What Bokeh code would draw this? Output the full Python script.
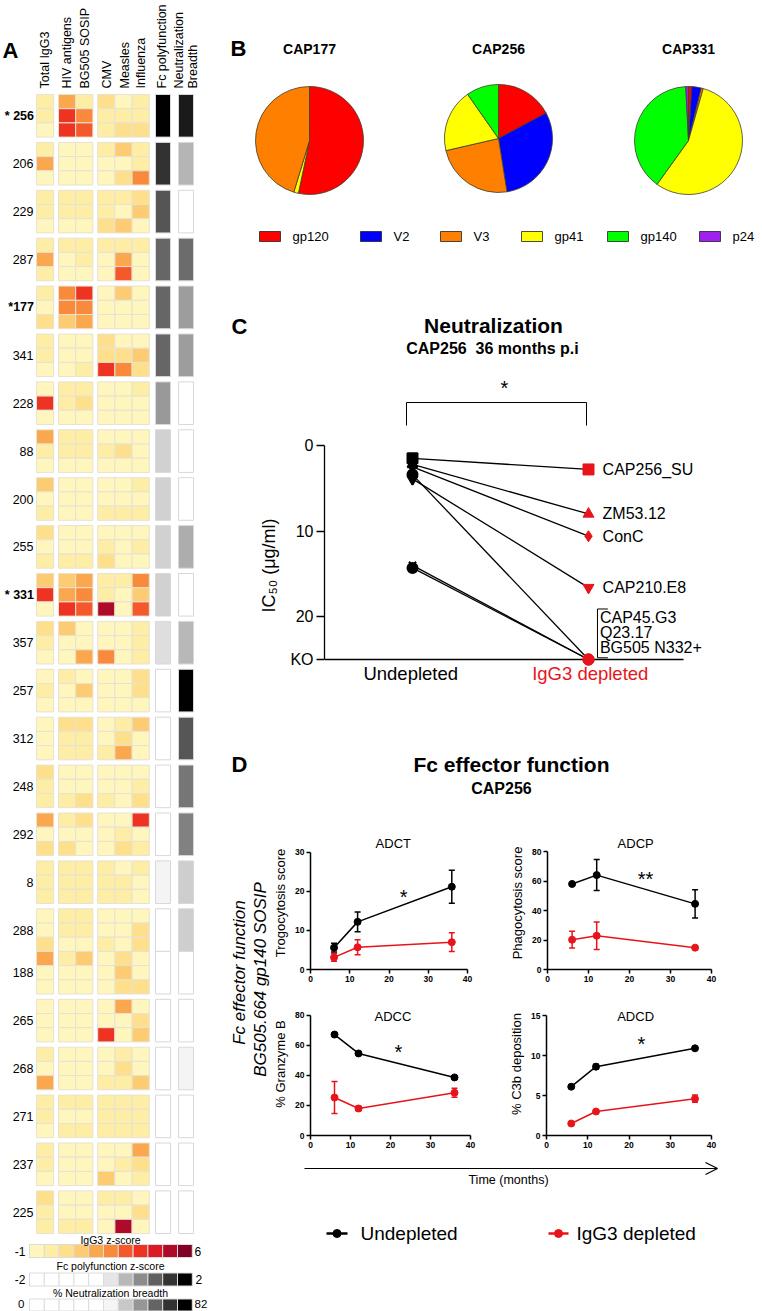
import math
from bokeh.plotting import figure
from bokeh.models import Range1d, ColumnDataSource, LinearColorMapper, FixedTicker, Arrow, OpenHead
from bokeh.layouts import row, column
from bokeh.embed import file_html
from bokeh.resources import INLINE
from bokeh.core.properties import value
from bokeh.transform import transform

FONT = "Liberation Sans"
RED = "#E8141C"

# ------------------------------------------------------------------ data
# Panel A: donors (top to bottom), IgG3 z-score bins 0..10 (3 time points per donor)
donors = ["256", "206", "229", "287", "177", "341", "228", "88", "200", "255", "331", "357",
          "257", "312", "248", "292", "8", "288", "188", "265", "268", "271", "237", "225"]
starred = ["256", "177", "331"]
flush_with_previous = ["188"]
heat_columns = ["Total IgG3", "HIV antigens", "BG505 SOSIP", "CMV", "Measles", "Influenza"]

total_igg3 = [1, 1, 0,  1, 4, 0,  1, 1, 0,  1, 4, 1,  1, 0, 2,  1, 1, 0,  0, 7, 0,  4, 1, 0,
              3, 0, 1,  2, 0, 1,  3, 7, 0,  2, 1, 0,  0, 1, 0,  0, 0, 0,  2, 1, 1,  4, 0, 2,
              1, 1, 1,  0, 0, 2,  4, 0, 0,  0, 0, 0,  1, 0, 4,  1, 1, 0,  1, 1, 0,  2, 1, 1]
hiv_antigens = [4, 7, 7,  0, 0, 0,  1, 1, 0,  1, 0, 0,  5, 5, 3,  0, 0, 0,  1, 1, 0,  1, 1, 0,
                0, 0, 0,  0, 0, 1,  3, 4, 7,  3, 0, 0,  1, 0, 0,  2, 1, 1,  0, 0, 1,  1, 0, 2,
                1, 1, 1,  1, 1, 0,  1, 0, 0,  0, 0, 0,  0, 0, 0,  1, 0, 1,  0, 0, 0,  0, 0, 1]
bg505_sosip = [1, 5, 6,  0, 0, 0,  1, 1, 0,  1, 1, 0,  7, 5, 4,  0, 0, 1,  1, 2, 0,  1, 1, 0,
               0, 0, 0,  0, 0, 1,  4, 5, 6,  0, 0, 4,  0, 3, 0,  2, 1, 1,  0, 0, 2,  2, 0, 0,
               1, 1, 1,  1, 1, 0,  3, 0, 0,  0, 0, 0,  0, 0, 0,  1, 0, 1,  0, 0, 0,  0, 0, 1]
cmv = [2, 1, 1,  1, 0, 0,  1, 1, 2,  1, 0, 0,  0, 0, 0,  2, 2, 7,  0, 0, 0,  0, 1, 0,
       0, 0, 1,  0, 1, 2,  1, 1, 9,  0, 0, 5,  0, 0, 0,  0, 0, 1,  0, 0, 1,  0, 0, 0,
       1, 1, 1,  0, 0, 1,  0, 0, 0,  0, 0, 7,  0, 0, 1,  1, 1, 1,  0, 0, 3,  1, 0, 0]
measles = [0, 1, 2,  3, 0, 2,  1, 0, 3,  1, 4, 6,  3, 0, 0,  0, 2, 5,  0, 0, 0,  0, 2, 0,
           0, 0, 1,  0, 0, 0,  1, 0, 0,  0, 0, 0,  0, 0, 0,  1, 2, 4,  0, 0, 0,  0, 1, 2,
           0, 1, 1,  0, 0, 0,  2, 3, 2,  4, 0, 0,  1, 2, 1,  1, 1, 1,  0, 1, 0,  1, 0, 9]
influenza = [1, 1, 2,  1, 1, 5,  2, 3, 0,  1, 0, 0,  0, 0, 0,  0, 3, 2,  1, 0, 0,  0, 0, 0,
             1, 0, 1,  0, 1, 0,  5, 3, 6,  1, 1, 1,  2, 2, 0,  3, 0, 0,  0, 1, 2,  7, 0, 1,
             1, 0, 0,  0, 2, 2,  0, 0, 2,  0, 2, 3,  0, 0, 3,  1, 1, 1,  4, 2, 1,  0, 2, 0]
fc_polyfunction = [2.0, 1.58, 1.31, 1.17, 1.17, 1.17, 0.74, 0.30, 0.30, 0.30, 0.30, 0.19,
                   -1, -1, -1, -1, 0.0, -1, -1, -1, -1, -1, -1, -1]
neutralization_breadth = [77, 49, 0, 62, 53, 53, 0, 0, 0, 50, 0, 48,
                          82, 66, 60, 58, 44, 44, 0, 0, 37, 0, 0, 0]

# Panel B: antigen specificity pies (clockwise from 12 o'clock)
antigens = ["gp120", "V2", "V3", "gp41", "gp140", "p24"]
antigen_colors = ["#FF0000", "#0000FF", "#FF8000", "#FFFF00", "#00FF00", "#A020F0"]
pie_names = ["CAP177", "CAP256", "CAP331"]
cap177_antigens = ["gp120", "gp41", "V3"]
cap177_pct = [53.3, 1.4, 45.3]
cap256_antigens = ["gp120", "V2", "V3", "gp41", "gp140"]
cap256_pct = [17.2, 30.3, 23.9, 18.9, 9.7]
cap331_antigens = ["gp120", "V2", "V3", "gp41", "gp140", "p24"]
cap331_pct = [1.0, 2.8, 0.6, 55.5, 39.3, 0.8]

# Panel C: neutralization IC50 (ug/ml); KO plotted at 25
strains = ["CAP256_SU", "ZM53.12", "ConC", "CAP210.E8", "CAP45.G3", "Q23.17", "BG505 N332+"]
strain_markers = ["square", "triangle", "diamond", "inverted_triangle", "circle", "x", "circle"]
ic50_undepleted = [1.5, 2.2, 2.5, 3.9, 3.4, 14.0, 14.3]
ic50_depleted = [2.8, 8.0, 10.6, 16.6, 25, 25, 25]
KO = 25
c_ticks = [0, 10, 20, 25]

# Panel D: Fc effector functions over time
months = [6, 12, 36]
adct_und = [5.6, 12.2, 21.2]; adct_und_err = [1.1, 2.5, 4.2]
adct_dep = [3.1, 5.7, 7.0]; adct_dep_err = [1.0, 1.9, 2.4]
adcp_und = [58.0, 64.0, 44.5]; adcp_und_err = [0.8, 10.5, 9.5]
adcp_dep = [20.2, 22.9, 14.8]; adcp_dep_err = [5.7, 9.3, 0.8]
adcc_und = [67.3, 54.7, 38.7]; adcc_und_err = [0.8, 0.8, 0.8]
adcc_dep = [25.3, 18.0, 28.5]; adcc_dep_err = [10.7, 1.5, 3.0]
adcd_und = [6.1, 8.6, 10.9]; adcd_und_err = [0.15, 0.3, 0.15]
adcd_dep = [1.5, 3.0, 4.6]; adcd_dep_err = [0.15, 0.2, 0.45]

heat_pal = ["#FFF6BE", "#FEEDA4", "#FEE08C", "#FDCB72", "#FBA74E", "#F98A3C",
            "#F5582A", "#EE3322", "#DC1A26", "#AE0A2A", "#800026"]
fc_legend = ["#FFFFFF"] * 5 + ["#E6E6E6", "#B8B8B8", "#8C8C8C", "#606060", "#333333", "#000000"]
neut_legend = ["#FFFFFF"] * 5 + ["#F5F5F5", "#C8C8C8", "#969696", "#646464", "#323232", "#000000"]


# ------------------------------------------------------------------ helpers
def canvas(w, h, x0, y0):
    p = figure(width=w, height=h, x_range=Range1d(x0, x0 + w), y_range=Range1d(y0 + h, y0),
               x_axis_location=None, y_axis_location=None, toolbar_location=None,
               output_backend="svg", min_border=0)
    p.grid.visible = False
    p.outline_line_color = None
    return p


def put_text(p, xs, ys, texts, size, color="black", align="left", baseline="middle",
             style="normal", angle=0.0):
    p.text(x=xs, y=ys, text=texts, text_font=value(FONT), text_font_size=f"{size}px",
           text_color=color, text_align=align, text_baseline=baseline,
           text_font_style=style, angle=angle)


def gray(g):
    g = int(round(max(0, min(255, g))))
    return "#%02x%02x%02x" % (g, g, g)


# ------------------------------------------------------------------ panel A
A = canvas(230, 1311, 0, 0)
put_text(A, [2], [50], ["A"], 22, style="bold")
header_labels = heat_columns + ["Fc polyfunction", "Neutralization", "Breadth"]
header_x = [44.6, 66.6, 84.5, 106.0, 124.0, 140.5, 161.0, 178.5, 192.5]
put_text(A, header_x, [88] * len(header_x), header_labels, 12.5, angle=math.pi / 2)

ROW_H, GAP, FIRST_TOP, CELL_W = 14.2, 5.3, 94.0, 17.2
col_centers = [44.6, 66.6, 83.8, 105.8, 123.0, 140.2]
tops = []
yy = FIRST_TOP
for i, d in enumerate(donors):
    if i:
        yy += 3 * ROW_H + (0 if d in flush_with_previous else GAP)
    tops.append(yy)

heat_mapper = LinearColorMapper(palette=heat_pal, low=-0.5, high=10.5)
cx, cy, cv = [], [], []
for c, col in enumerate([total_igg3, hiv_antigens, bg505_sosip, cmv, measles, influenza]):
    for i, v in enumerate(col):
        g, r = divmod(i, 3)
        cx.append(col_centers[c])
        cy.append(tops[g] + (r + 0.5) * ROW_H)
        cv.append(v)
A.rect(x="x", y="y", width=CELL_W, height=ROW_H,
       source=ColumnDataSource(dict(x=cx, y=cy, v=cv)),
       fill_color=transform("v", heat_mapper), line_color="#E6E2D4", line_width=1)

fc_pal = [("#FFFFFF" if z < 0 else gray(245 - 122.5 * z))
          for z in [-2 + 4 * (k + 0.5) / 200 for k in range(200)]]
fc_mapper = LinearColorMapper(palette=fc_pal, low=-2, high=2)
neut_pal = [("#FFFFFF" if v < 36.5 else gray(245 * (82 - v) / 45))
            for v in [82 * (k + 0.5) / 164 for k in range(164)]]
neut_mapper = LinearColorMapper(palette=neut_pal, low=0, high=82)
mid_y = [t + 1.5 * ROW_H for t in tops]
A.rect(x="x", y="y", width=15, height=3 * ROW_H,
       source=ColumnDataSource(dict(x=[162.5] * len(donors), y=mid_y, v=fc_polyfunction)),
       fill_color=transform("v", fc_mapper), line_color="#D8D8D8", line_width=1)
A.rect(x="x", y="y", width=15, height=3 * ROW_H,
       source=ColumnDataSource(dict(x=[185.5] * len(donors), y=mid_y, v=neutralization_breadth)),
       fill_color=transform("v", neut_mapper), line_color="#D8D8D8", line_width=1)

plain = [i for i, d in enumerate(donors) if d not in starred]
star_i = [i for i, d in enumerate(donors) if d in starred]
put_text(A, [33] * len(plain), [mid_y[i] for i in plain], [donors[i] for i in plain], 12.5, align="right")
put_text(A, [33.5] * len(star_i), [mid_y[i] for i in star_i],
         [("*" if donors[i] == "177" else "* ") + donors[i] for i in star_i], 12.5,
         align="right", style="bold")

# colour keys
key_w = 14.8
key_x = [29 + (k + 0.5) * key_w for k in range(11)]
for colors, yc, h in ((heat_pal, 1250.5, 13), (fc_legend, 1279, 13), (neut_legend, 1304.5, 12)):
    A.rect(x=key_x, y=[yc] * 11, width=key_w, height=h, fill_color=colors,
           line_color="#DCDCDC", line_width=1)
put_text(A, [110, 110, 110], [1239.5, 1265.5, 1292],
         ["IgG3 z-score", "Fc polyfunction z-score", "% Neutralization breadth"], 10.5, align="center")
put_text(A, [25, 25], [1251, 1279], ["-1", "-2"], 12, align="right")
put_text(A, [194, 195], [1251, 1279], ["6", "2"], 12)
put_text(A, [24], [1303], ["0"], 11.5, align="right")
put_text(A, [194], [1303], ["82"], 11.5)

# ------------------------------------------------------------------ panel B (+ header of C)
RW = 532  # right column width
B = canvas(RW, 430, 230, 0)
put_text(B, [230], [48], ["B"], 22, style="bold")
pie_cx = [309, 498, 688]
pie_cy = [140, 138, 140]
put_text(B, pie_cx, [48, 48, 48], pie_names, 14, align="center", style="bold")
for (ags, pct), px, py in zip(((cap177_antigens, cap177_pct), (cap256_antigens, cap256_pct),
                                (cap331_antigens, cap331_pct)), pie_cx, pie_cy):
    tot = float(sum(pct))
    acc = 0.0
    st, en, cl = [], [], []
    for a, v in zip(ags, pct):
        st.append(math.pi / 2 - 2 * math.pi * acc / tot)
        acc += v
        en.append(math.pi / 2 - 2 * math.pi * acc / tot)
        cl.append(antigen_colors[antigens.index(a)])
    B.wedge(x=px, y=py, radius=54, start_angle=st, end_angle=en, direction="clock",
            fill_color=cl, line_color="#3C3C30", line_width=0.8)

sw_x = [269.5, 370.5, 450.5, 531.5, 617.5, 709.5]
B.rect(x=sw_x, y=[236] * 6, width=21, height=10, fill_color=antigen_colors,
       line_color="#222222", line_width=0.8)
put_text(B, [x + 22.5 for x in sw_x], [236] * 6, antigens, 13)

put_text(B, [231], [326], ["C"], 22, style="bold")
put_text(B, [493], [325], ["Neutralization"], 21, align="center", style="bold")
put_text(B, [492], [348], ["CAP256\u00a0\u00a036 months p.i"], 16, align="center", style="bold")
put_text(B, [504], [387], ["*"], 20, align="center")
B.line(x=[406, 406, 586, 586], y=[425, 402, 402, 425], line_color="black", line_width=1)

# ------------------------------------------------------------------ panel C plot
C = figure(width=RW, height=270, x_range=Range1d(0.5, 0.5 + (762 - 324) / 176.0),
           y_range=Range1d(29.79, -1.75),
           toolbar_location=None, output_backend="svg", x_axis_location=None,
           min_border_left=94, min_border_right=0, min_border_top=0, min_border_bottom=0)
C.grid.visible = False
C.outline_line_color = None
ya = C.yaxis[0]
ya.ticker = FixedTicker(ticks=c_ticks)
ya.major_label_overrides = {KO: "KO"}
ya.bounds = (0, KO)
ya.axis_label = "IC\u2085\u2080 (\u03bcg/ml)"
ya.axis_label_text_font = FONT
ya.axis_label_text_font_size = "18px"
ya.axis_label_text_font_style = "normal"
ya.axis_label_text_color = "black"
ya.axis_label_standoff = 8
ya.major_label_text_font = FONT
ya.major_label_text_font_size = "16px"
ya.major_label_text_color = "black"
ya.major_label_standoff = 3
ya.major_tick_in = 0
ya.major_tick_out = 8
ya.minor_tick_line_color = None
ya.axis_line_width = 1.3
ya.major_tick_line_width = 1.3

C.line(x=[0.5, 2.54], y=[KO, KO], line_color="black", line_width=1.3)
C.multi_line(xs=[[1, 2] for _ in strains], ys=[[u, d] for u, d in zip(ic50_undepleted, ic50_depleted)],
             line_color="black", line_width=1.3)
C.scatter(x="x", y="y", marker="m", size=10, source=ColumnDataSource(dict(
    x=[1] * len(strains), y=ic50_undepleted, m=strain_markers)),
    fill_color="black", line_color="black", line_width=2)
dep_markers = [m if d < KO else "circle" for m, d in zip(strain_markers, ic50_depleted)]
C.scatter(x="x", y="y", marker="m", size=11, source=ColumnDataSource(dict(
    x=[2] * len(strains), y=ic50_depleted, m=dep_markers)),
    fill_color=RED, line_color=RED, line_width=1)
named = [i for i, d in enumerate(ic50_depleted) if d < KO]
put_text(C, [2.08] * len(named), [ic50_depleted[i] for i in named], [strains[i] for i in named], 16)
ko_names = [s for s, d in zip(strains, ic50_depleted) if d >= KO]
put_text(C, [2.065] * len(ko_names), [20.1 + 1.75 * k for k in range(len(ko_names))], ko_names, 16)
C.line(x=[2.11, 2.051, 2.051, 2.11], y=[19.1, 19.1, 24.8, 24.8], line_color="black", line_width=1)
put_text(C, [0.99], [26.6], ["Undepleted"], 18.5, align="center")
put_text(C, [2.01], [26.6], ["IgG3 depleted"], 18.5, color=RED, align="center")

# ------------------------------------------------------------------ panel D
Dhead = canvas(RW, 136, 230, 700)
put_text(Dhead, [231], [764], ["D"], 22, style="bold")
put_text(Dhead, [511], [764], ["Fc effector function"], 21, align="center", style="bold")
put_text(Dhead, [501], [788], ["CAP256"], 16, align="center", style="bold")

Dlabel = canvas(40, 319, 230, 836)
put_text(Dlabel, [239, 260], [972, 979], ["Fc effector function", "BG505.664 gp140 SOSIP"], 17,
         align="center", style="italic", angle=math.pi / 2)


def effector_panel(w, h, left, right, bottom, y_top, y_ticks, ylabel, title, title_pos,
                   star, star_pos, und, und_err, dep, dep_err):
    p = figure(width=w, height=h, x_range=Range1d(0, 40), y_range=Range1d(0, y_top),
               toolbar_location=None, output_backend="svg",
               min_border_left=left, min_border_right=right, min_border_top=0,
               min_border_bottom=bottom)
    p.grid.visible = False
    p.outline_line_color = None
    p.xaxis.ticker = FixedTicker(ticks=[0, 10, 20, 30, 40])
    p.yaxis.ticker = FixedTicker(ticks=y_ticks)
    p.xaxis.bounds = (0, 40)
    p.yaxis.bounds = (0, y_ticks[-1])
    for ax in (p.xaxis[0], p.yaxis[0]):
        ax.axis_line_width = 1.5
        ax.major_tick_line_width = 1.5
        ax.major_tick_in = 0
        ax.major_tick_out = 4
        ax.minor_tick_line_color = None
        ax.major_label_text_font = FONT
        ax.major_label_text_font_size = "8.5px"
        ax.major_label_text_font_style = "bold"
        ax.major_label_text_color = "black"
        ax.major_label_standoff = 2
    ax = p.yaxis[0]
    ax.axis_label = ylabel
    ax.axis_label_text_font = FONT
    ax.axis_label_text_font_size = "13px"
    ax.axis_label_text_font_style = "normal"
    ax.axis_label_text_color = "black"
    ax.axis_label_standoff = 4
    for vals, errs, colr in ((dep, dep_err, RED), (und, und_err, "black")):
        lo = [v - e for v, e in zip(vals, errs)]
        hi = [v + e for v, e in zip(vals, errs)]
        p.segment(x0=months, y0=lo, x1=months, y1=hi, line_color=colr, line_width=1.5)
        p.scatter(x=months + months, y=lo + hi, marker="dash", size=6, line_color=colr, line_width=1.5)
        p.line(x=months, y=vals, line_color=colr, line_width=1.5)
        p.scatter(x=months, y=vals, marker="circle", size=7, fill_color=colr, line_color=colr)
    put_text(p, [title_pos[0]], [title_pos[1]], [title], 13, align="center")
    put_text(p, [star_pos[0]], [star_pos[1]], [star], 20, align="center")
    return p


ADCT = effector_panel(222, 156, 40, 25, 22, 34.07, [0, 10, 20, 30], "Trogocytosis score",
                      "ADCT", (21.1, 32.3), "*", (23.7, 18.7), adct_und, adct_und_err, adct_dep, adct_dep_err)
ADCP = effector_panel(RW - 262, 156, 55, 51, 23, 90.17, [0, 20, 40, 60, 80], "Phagocytosis score",
                      "ADCP", (21.5, 85.4), "**", (23.9, 61.6), adcp_und, adcp_und_err, adcp_dep, adcp_dep_err)
ADCC = effector_panel(222, 163, 39, 22, 20, 95.33, [0, 20, 40, 60, 80], "% Granzyme B",
                      "ADCC", (20.6, 79.3), "*", (22.0, 55.4), adcc_und, adcc_und_err, adcc_dep, adcc_dep_err)
ADCD = effector_panel(RW - 262, 163, 54, 51, 20, 17.875, [0, 5, 10, 15], "% C3b deposition",
                      "ADCD", (21.6, 14.9), "*", (23.0, 11.4), adcd_und, adcd_und_err, adcd_dep, adcd_dep_err)

Dfoot = canvas(RW, 156, 230, 1155)
Dfoot.add_layout(Arrow(end=OpenHead(size=12, line_width=1.2, line_color="black"),
                       x_start=304, y_start=1168, x_end=717, y_end=1168,
                       line_color="black", line_width=1.2))
put_text(Dfoot, [508], [1179], ["Time (months)"], 12.5, align="center")
Dfoot.line(x=[326, 347], y=[1233, 1233], line_color="black", line_width=2.5)
Dfoot.scatter(x=[336.5], y=[1233], marker="circle", size=8, fill_color="black", line_color="black")
Dfoot.line(x=[548, 568], y=[1233, 1233], line_color=RED, line_width=2.5)
Dfoot.scatter(x=[558], y=[1233], marker="circle", size=8, fill_color=RED, line_color=RED)
put_text(Dfoot, [360, 576], [1233, 1233], ["Undepleted", "IgG3 depleted"], 19)

right = column(B, row(C), Dhead, row(Dlabel, column(row(ADCT, ADCP), row(ADCC, ADCD))), Dfoot)
layout = row(A, right)

open("out.html", "w").write(file_html(layout, INLINE))
